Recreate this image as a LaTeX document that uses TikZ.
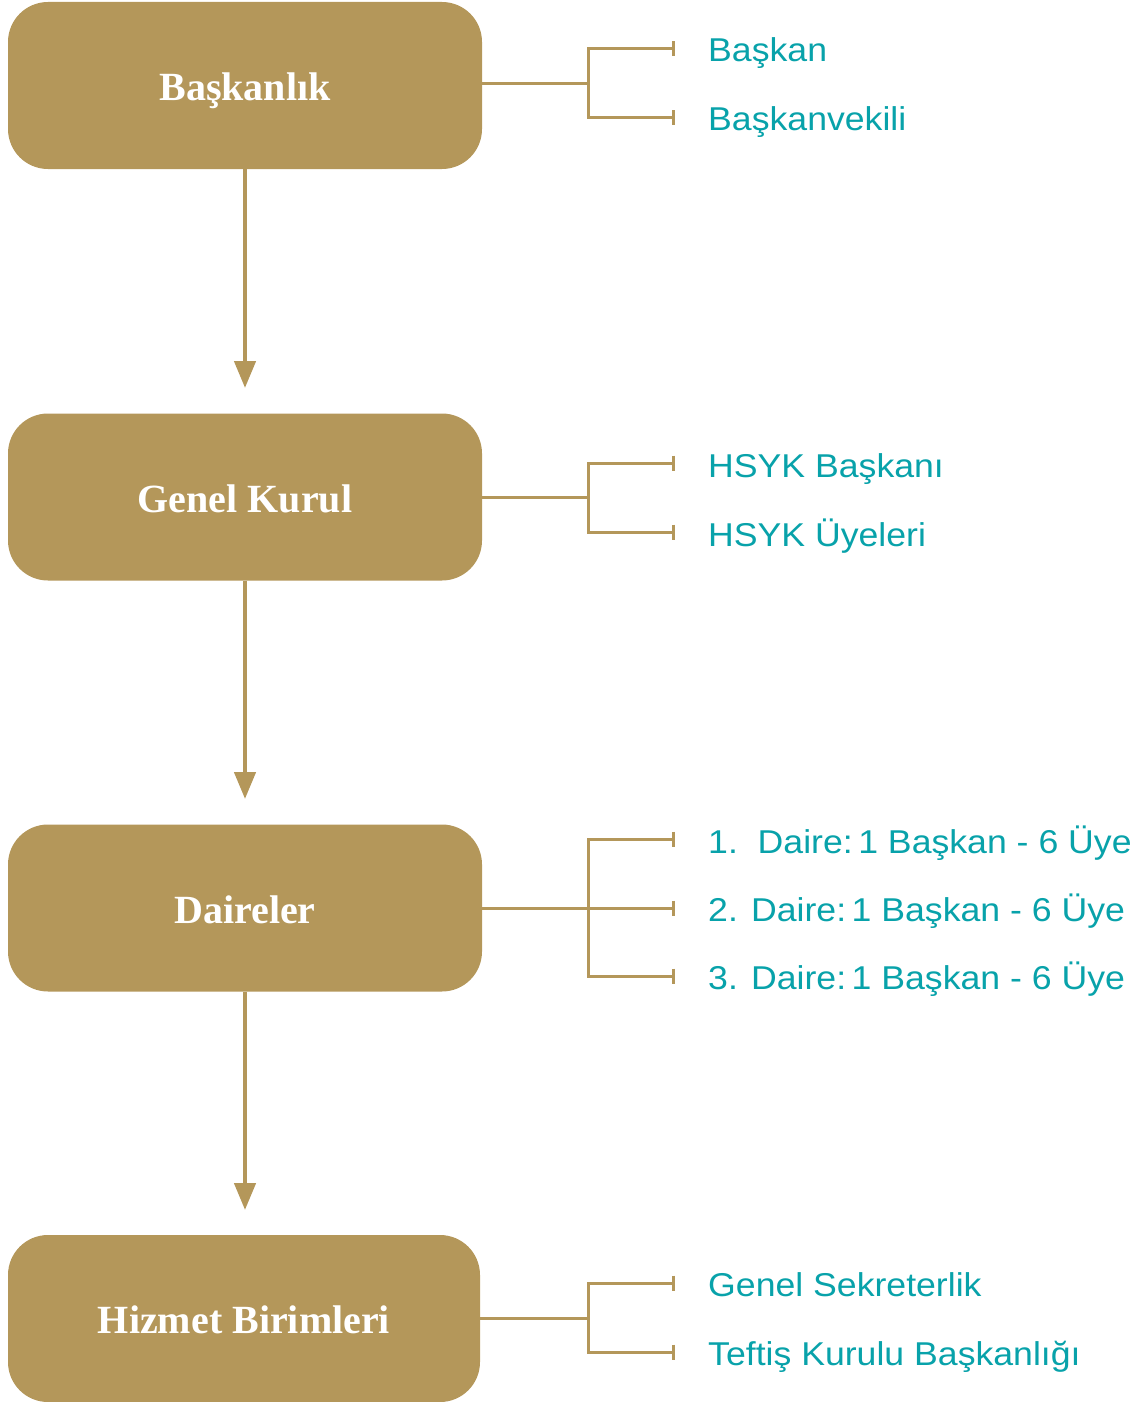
\documentclass[tikz,border=0pt]{standalone}
\usepackage{fontspec}
\usetikzlibrary{arrows.meta}
\newfontfamily\lblfont[FakeStretch=1.08]{Liberation Sans}
\newfontfamily\boxfont{Liberation Serif}
\definecolor{gold}{RGB}{180,151,90}
\definecolor{teal}{RGB}{8,162,170}
\tikzset{
  unitbox/.style={fill=gold, rounded corners=40pt, minimum width=474pt, minimum height=167pt,
    text=white, font=\boxfont\bfseries\fontsize{40}{46}\selectfont, inner sep=0pt,
    text height=30pt, text depth=0pt},
  flow/.style={draw=gold, line width=4.5pt, -{Triangle[length=27pt,width=21pt]}},
  br/.style={draw=gold, line width=3pt},
  brt/.style={draw=gold, line width=3pt, -{Bar[width=15pt]}},
  lbl/.style={text=teal, font=\lblfont\fontsize{33}{40}\selectfont, anchor=base west, inner sep=0pt}
}
\begin{document}
\begin{tikzpicture}[x=1pt,y=-1pt]
\useasboundingbox (0,0) rectangle (1135,1402);
% boxes
\node[unitbox] (b1) at (245,85.5) {Başkanlık};
\node[unitbox] (b2) at (245,497) {Genel Kurul};
\node[unitbox] (b3) at (245,908) {Daireler};
\node[unitbox, minimum width=472pt] (b4) at (244,1318.5) {Hizmet Birimleri};
% flow arrows
\coordinate (a1) at (245,388);
\coordinate (a2) at (245,799);
\coordinate (a3) at (245,1210);
\draw[flow] (b1.south) -- (a1);
\draw[flow] (b2.south) -- (a2);
\draw[flow] (b3.south) -- (a3);
% labels
\node[lbl] (l11) at (708,62) {Başkan};
\node[lbl] (l12) at (708,131) {Başkanvekili};
\node[lbl] (l21) at (708,477) {HSYK Başkanı};
\node[lbl] (l22) at (708,546) {HSYK Üyeleri};
\node[lbl] (l31) at (708,853) {1.\ \ Daire:\,1 Başkan - 6 Üye};
\node[lbl] (l32) at (708,921) {2. Daire:\,1 Başkan - 6 Üye};
\node[lbl] (l33) at (708,989) {3. Daire:\,1 Başkan - 6 Üye};
\node[lbl] (l41) at (708,1296) {Genel Sekreterlik};
\node[lbl] (l42) at (708,1365) {Teftiş Kurulu Başkanlığı};
% tick coordinates
\coordinate (t11) at (675,49);
\coordinate (t12) at (675,118);
\coordinate (t21) at (675,463);
\coordinate (t22) at (675,532);
\coordinate (t31) at (675,839);
\coordinate (t32) at (675,908);
\coordinate (t33) at (675,976);
\coordinate (t41) at (675,1283);
\coordinate (t42) at (675,1352);
% brackets
\draw[br] (b1.east |- 0,84) -- (588,84) coordinate (j1);
\draw[brt] (j1) |- (t11);
\draw[brt] (j1) |- (t12);
\draw[br] (b2.east) -- (588,497) coordinate (j2);
\draw[brt] (j2) |- (t21);
\draw[brt] (j2) |- (t22);
\draw[brt] (b3.east) -- (t32);
\coordinate (j3) at (588,908);
\draw[brt] (j3) |- (t31);
\draw[brt] (j3) |- (t33);
\draw[br] (b4.east) -- (588,1318.5) coordinate (j4);
\draw[brt] (j4) |- (t41);
\draw[brt] (j4) |- (t42);
\end{tikzpicture}
\end{document}
